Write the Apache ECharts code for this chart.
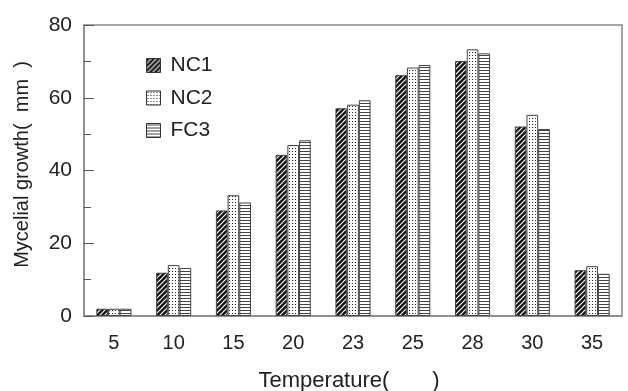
<!DOCTYPE html>
<html><head><meta charset="utf-8">
<script src="https://cdn.jsdelivr.net/npm/echarts@6/dist/echarts.min.js"></script>
<style>html,body{margin:0;padding:0;background:#fff}#c{width:628px;height:391px}</style>
</head><body><div id="c"></div>
<script>
var categories = ['5','10','15','20','23','25','28','30','35'];
var nc1 = [2, 11.9, 29.0, 44.3, 57.1, 66.2, 70.1, 52.1, 12.6];
var nc2 = [2, 14.0, 33.2, 47.0, 58.1, 68.3, 73.3, 55.3, 13.7];
var fc3 = [2, 13.2, 31.2, 48.3, 59.3, 69.0, 72.2, 51.4, 11.6];
var seriesNames = ['NC1','NC2','FC3'];

function pat(kind){
  var c = document.createElement('canvas');
  var ctx = c.getContext('2d');
  if(kind==='diag'){
    c.width=5;c.height=5;
    ctx.fillStyle='#111';ctx.fillRect(0,0,5,5);
    ctx.strokeStyle='#fff';ctx.lineWidth=1.2;
    ctx.beginPath();
    ctx.moveTo(-1,6);ctx.lineTo(6,-1);
    ctx.moveTo(-6,6);ctx.lineTo(1,-1);
    ctx.moveTo(4,6);ctx.lineTo(11,-1);
    ctx.stroke();
  } else if(kind==='dot'){
    c.width=3;c.height=3;
    ctx.fillStyle='#fff';ctx.fillRect(0,0,3,3);
    ctx.fillStyle='#222';ctx.fillRect(1,1,1,1);
  } else {
    c.width=3;c.height=3;
    ctx.fillStyle='#fff';ctx.fillRect(0,0,3,3);
    ctx.fillStyle='#444';ctx.fillRect(0,1,3,1);
  }
  return {image:c, repeat:'repeat'};
}
var fills=[pat('diag'),pat('dot'),pat('hor')];
var datas=[nc1,nc2,fc3];
var font='Liberation Sans, Arial, sans-serif';
var chart = echarts.init(document.getElementById('c'));
chart.setOption({
  animation:false,
  backgroundColor:'#fff',
  grid:{left:84,right:6,top:25,bottom:75,show:true,borderColor:'#888',borderWidth:1.5,
    containLabel:false,outerBoundsMode:'none'},
  legend:{orient:'vertical',left:146,top:55,padding:0,itemWidth:14,itemHeight:14,itemGap:11.5,
    textStyle:{fontFamily:font,fontSize:21,lineHeight:21,color:'#222',padding:[0,0,0,5]},
    data:seriesNames.map(function(n,i){return {name:n,icon:'rect',itemStyle:{color:fills[i],borderColor:'#333',borderWidth:1}};})},
  xAxis:{type:'category',data:categories,
    axisLine:{lineStyle:{color:'#888',width:1.5}},axisTick:{show:false},
    axisLabel:{fontFamily:font,fontSize:20,color:'#222',margin:17},
    name:'Temperature(       )',nameLocation:'middle',nameGap:54,
    nameTextStyle:{fontFamily:font,fontSize:22,color:'#222',padding:[0,8,0,0]}},
  yAxis:{type:'value',min:0,max:80,interval:20,
    axisLine:{show:true,lineStyle:{color:'#888',width:1.5}},
    axisTick:{show:true,inside:true,length:10,lineStyle:{color:'#555'}},
    minorTick:{show:true,splitNumber:2,length:7,lineStyle:{color:'#555'}},
    splitLine:{show:false},
    axisLabel:{fontFamily:font,fontSize:21,color:'#222',margin:12},
    name:'Mycelial growth(  mm  )',nameLocation:'middle',nameGap:52,
    nameTextStyle:{fontFamily:font,fontSize:20,color:'#222',padding:[0,0,0,12]}},
  series:seriesNames.map(function(n,i){return {
    name:n,type:'bar',data:datas[i],barWidth:11.7,barGap:'0%',
    itemStyle:{color:fills[i],borderColor:'#444',borderWidth:1}};})
});
</script></body></html>
